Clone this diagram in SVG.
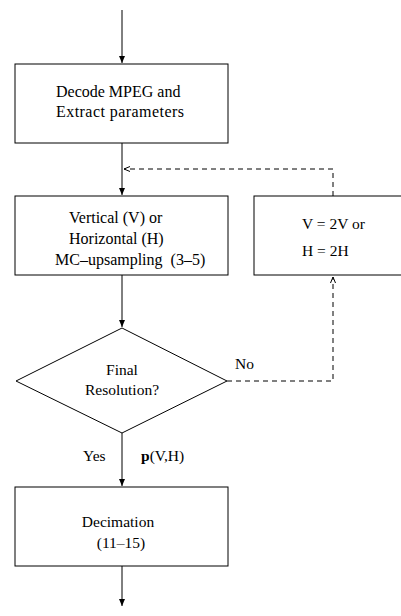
<svg xmlns="http://www.w3.org/2000/svg" width="401" height="616" viewBox="0 0 401 616">
<style>
.box{fill:#fff;stroke:#000;stroke-width:1}
.ln{fill:none;stroke:#000;stroke-width:1}
.dash{fill:none;stroke:#000;stroke-width:1;stroke-dasharray:5,4}
text{font-family:"Liberation Serif","Times New Roman",serif;font-size:15.5px;fill:#000}
.w{font-size:16px}
</style>
<defs>
<marker id="ah" markerWidth="8" markerHeight="10" refX="7" refY="4" orient="auto" markerUnits="userSpaceOnUse">
<path d="M0,1 L7,4 L0,7 z" fill="#000"/>
</marker>
<marker id="oh" markerWidth="9" markerHeight="8" refX="6" refY="4" orient="auto" markerUnits="userSpaceOnUse">
<path d="M0,1.5 L6,4 L0,6.5" fill="none" stroke="#000" stroke-width="1"/>
</marker>
</defs>
<rect width="401" height="616" fill="#fff"/>
<g id="connectors">
<line class="ln" x1="122" y1="10" x2="122" y2="63" marker-end="url(#ah)"/>
<line class="ln" x1="122" y1="143" x2="122" y2="195" marker-end="url(#ah)"/>
<line class="ln" x1="122" y1="275" x2="122" y2="327" marker-end="url(#ah)"/>
<line class="ln" x1="122" y1="433" x2="122" y2="486" marker-end="url(#ah)"/>
<line class="ln" x1="122" y1="566" x2="122" y2="606" marker-end="url(#ah)"/>
<path class="dash" d="M227,381 H333 V277" marker-end="url(#oh)"/>
<path class="dash" d="M333,196 V169 H124" marker-end="url(#oh)"/>
<text x="235" y="369">No</text>
<text x="83" y="461">Yes</text>
<text x="141" y="461"><tspan font-weight="bold">p</tspan>(V,H)</text>
</g>
<g id="decode">
<rect class="box" x="15" y="64" width="213" height="79"/>
<text class="w" x="56" y="97">Decode MPEG and</text>
<text class="w" x="56" y="117" textLength="128">Extract parameters</text>
</g>
<g id="upsampling">
<rect class="box" x="15" y="196" width="213" height="79"/>
<text class="w" x="69" y="223">Vertical (V) or</text>
<text class="w" x="69" y="244">Horizontal (H)</text>
<text class="w" x="55" y="265" xml:space="preserve">MC–upsampling  (3–5)</text>
</g>
<g id="double">
<rect class="box" x="254" y="196" width="160" height="79"/>
<text x="302" y="229">V = 2V or</text>
<text x="302" y="256">H = 2H</text>
</g>
<g id="decision">
<polygon class="box" points="122,328 227,381 122,433 16,381"/>
<text x="122" y="375" text-anchor="middle">Final</text>
<text x="122" y="395" text-anchor="middle">Resolution?</text>
</g>
<g id="decimation">
<rect class="box" x="15" y="487" width="213" height="79"/>
<text x="118" y="527" text-anchor="middle">Decimation</text>
<text x="121" y="548" text-anchor="middle">(11–15)</text>
</g>
</svg>
